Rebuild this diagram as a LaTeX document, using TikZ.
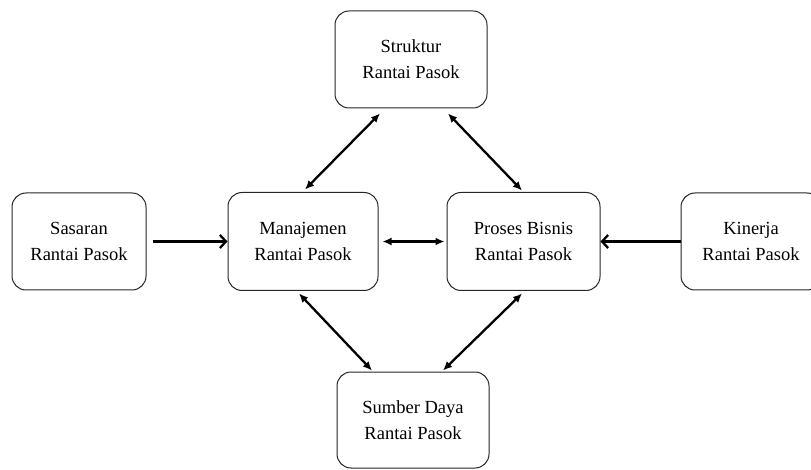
\documentclass[tikz,border=0pt]{standalone}
\usepackage{fontspec}
\setmainfont{Liberation Serif}
\usetikzlibrary{arrows.meta,calc}
\begin{document}
\begin{tikzpicture}[x=1pt,y=1pt,
  box/.style={draw=black!85, line width=1pt, rounded corners=14pt, align=center,
    font=\fontsize{18.5}{26}\selectfont, inner sep=0pt},
  conn/.style={line width=2.3pt, black},
  bi/.style={conn, {Latex[length=9pt,width=8pt]}-{Latex[length=9pt,width=8pt]}},
  uni/.style={conn, -{Straight Barb[length=6pt,width=13pt,line width=2.3pt]}}]
\useasboundingbox (0,0) rectangle (811,469);
\begin{scope}
\clip (0,0) rectangle (811,469);
\node[box, minimum width=152pt, minimum height=97pt] (struk) at (411,409.5) {Struktur\\Rantai Pasok};
\node[box, minimum width=134pt, minimum height=97pt] (sas) at (79,227.5) {Sasaran\\Rantai Pasok};
\node[box, minimum width=150pt, minimum height=98pt] (man) at (303,227.5) {Manajemen\\Rantai Pasok};
\node[box, minimum width=153pt, minimum height=98pt] (pro) at (523.5,227.5) {Proses Bisnis\\Rantai Pasok};
\node[box, minimum width=140pt, minimum height=97pt] (kin) at (751,227.5) {Kinerja\\Rantai Pasok};
\node[box, minimum width=152pt, minimum height=96pt] (sum) at (413,49) {Sumber Daya\\Rantai Pasok};
\end{scope}
\draw[bi] ([xshift=-31pt,yshift=-5pt]struk.south) -- ([xshift=2pt,yshift=2.5pt]man.north);
\draw[bi] ([xshift=37pt,yshift=-5pt]struk.south) -- ([xshift=-1.5pt,yshift=1.5pt]pro.north);
\draw[bi] ([xshift=-4pt,yshift=-2.5pt]man.south) -- ([xshift=-41pt,yshift=1pt]sum.north);
\draw[bi] ([xshift=-1.5pt,yshift=-2.5pt]pro.south) -- ([xshift=30pt,yshift=1pt]sum.north);
\draw[uni] ([xshift=6pt]sas.east) -- (man.west);
\draw[bi] ([xshift=4pt]man.east) -- ([xshift=-2pt]pro.west);
\draw[uni] (kin.west) -- (pro.east);
\end{tikzpicture}
\end{document}
